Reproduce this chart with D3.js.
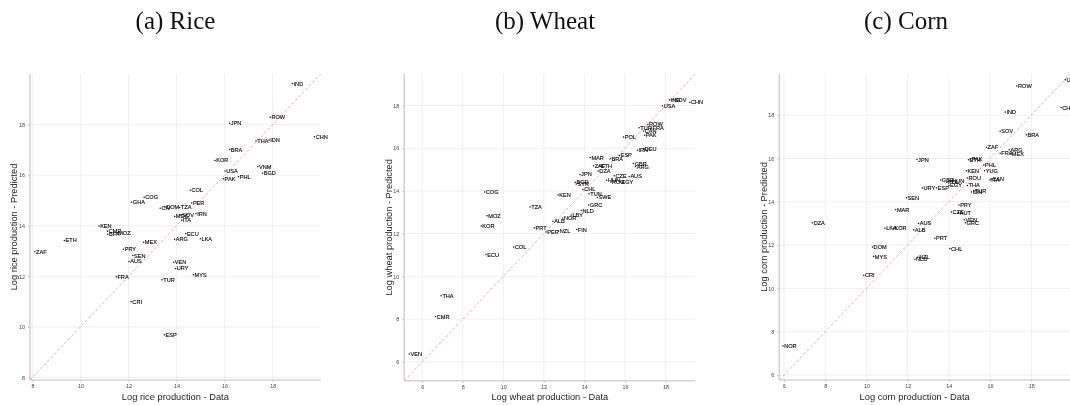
<!DOCTYPE html>
<html><head><meta charset="utf-8">
<script src="https://cdn.jsdelivr.net/npm/d3@7"></script>
<style>
html,body{margin:0;padding:0;background:#fff;overflow:hidden;}
svg{display:block;will-change:transform;}
</style></head>
<body>
<script>
// ---------- DATA ----------
const panelTitles = ["(a) Rice", "(b) Wheat", "(c) Corn"];
const xTitles = ["Log rice production - Data", "Log wheat production - Data", "Log corn production - Data"];
const yTitles = ["Log rice production - Predicted", "Log wheat production - Predicted", "Log corn production - Predicted"];
const tickValues = [8, 10, 12, 14, 16, 18];
const tickValuesB = [6, 8, 10, 12, 14, 16, 18];

const riceLabels = ["IND","ROW","JPN","CHN","THA","IDN","BRA","KOR","VNM","BGD","USA","PAK","PHL","COL","PER","IRN","SOV","MDG","ITA","TZA","DOM","CIV","COG","GHA","MEX","KEN","CMR","MOZ","BFA","ETH","ZAF","PRY","SEN","AUS","FRA","TUR","CRI","ESP","ARG","ECU","LKA","VEN","URY","MYS"];
const riceData = [18.82,17.90,16.21,19.74,17.31,17.85,16.21,15.60,17.38,17.58,16.02,15.95,16.58,14.57,14.63,14.81,14.18,13.92,14.21,14.13,13.52,13.32,12.65,12.13,12.63,10.77,11.13,11.52,11.14,9.33,8.10,11.79,12.18,12.02,11.49,13.40,12.11,13.49,13.92,14.38,14.99,13.88,13.96,14.70];
const ricePred = [19.62,18.29,18.05,17.52,17.35,17.39,17.01,16.58,16.34,16.08,16.16,15.86,15.94,15.40,14.90,14.48,14.42,14.37,14.22,14.72,14.74,14.69,15.13,14.93,13.35,13.99,13.78,13.71,13.66,13.42,12.97,13.07,12.82,12.59,11.98,11.86,11.00,9.69,13.47,13.69,13.49,12.56,12.31,12.06];

const wheatLabels = ["IND","SOV","CHN","USA","ROW","TUR","FRA","CAN","PAK","POL","IRN","DEU","MAR","BRA","ESP","GBR","ARG","ZAF","ETH","DZA","JPN","CZE","AUS","EGY","HUN","ROU","BGD","SYR","CHL","KEN","TUN","SWE","GRC","NLD","LBY","NOR","ALB","PER","NZL","FIN","COG","TZA","MOZ","KOR","PRT","COL","ECU","THA","CMR","VEN"];
const wheatData = [18.20,18.39,19.20,17.85,17.13,16.70,17.30,16.92,16.97,15.93,16.61,16.92,14.29,15.28,15.73,16.42,16.52,14.45,14.75,14.68,13.78,15.47,16.21,15.77,15.10,15.30,13.55,13.60,13.93,12.70,14.23,14.64,14.21,13.85,13.35,12.93,12.45,12.11,12.73,13.62,9.08,11.32,9.20,8.91,11.53,10.51,9.15,6.94,6.66,5.37];
const wheatPred = [18.27,18.27,18.14,17.99,17.11,16.96,16.93,16.80,16.60,16.52,15.90,15.96,15.56,15.51,15.66,15.28,15.14,15.18,15.16,14.93,14.77,14.71,14.68,14.43,14.50,14.42,14.40,14.32,14.07,13.81,13.87,13.69,13.34,13.08,12.87,12.73,12.58,12.08,12.12,12.19,13.95,13.25,12.84,12.36,12.28,11.38,11.02,9.09,8.12,6.37];

const cornLabels = ["USA","CHN","ROW","IND","SOV","BRA","ZAF","ARG","FRA","MEX","JPN","ETH","PAK","PHL","KEN","YUG","ROU","CAN","ITA","GBR","HUN","POL","ESP","EGY","THA","TUR","IDN","URY","SEN","PRY","CZE","AUT","VEN","GRC","AUS","ALB","PRT","CHL","NZL","NLD","DZA","MAR","LKA","KOR","DOM","MYS","CRI","NOR"];
const cornData = [19.65,19.45,17.30,16.74,16.49,17.76,15.82,16.93,16.49,17.00,12.45,14.95,15.05,15.70,14.85,15.73,14.90,16.05,16.00,13.60,14.10,13.90,13.40,14.00,14.90,15.20,15.10,12.71,11.94,14.49,14.12,14.47,14.75,14.80,12.53,12.29,13.32,14.05,12.50,12.35,7.38,11.42,10.90,11.30,10.29,10.35,9.87,5.95];
const cornPred = [19.63,18.35,19.35,18.15,17.26,17.09,16.52,16.40,16.24,16.21,15.95,15.94,15.97,15.70,15.43,15.43,15.10,15.05,15.00,15.00,14.95,14.90,14.65,14.75,14.75,14.50,14.45,14.64,14.18,13.85,13.53,13.50,13.17,13.03,13.00,12.71,12.32,11.84,11.44,11.35,13.03,13.63,12.78,12.78,11.91,11.47,10.61,7.34];

// ---------- LAYOUT ----------
const W = 1070, H = 405;
const panels = [
  {labels: riceLabels, xs: riceData, ys: ricePred, ticks: tickValues, domain: [7.9, 20.0],
   left: 30, right: 320.7, top: 74, bottom: 380, titleX: 175.5},
  {labels: wheatLabels, xs: wheatData, ys: wheatPred, ticks: tickValuesB, domain: [5.12, 19.47],
   left: 404.3, right: 695.3, top: 74, bottom: 380.7, titleX: 545},
  {labels: cornLabels, xs: cornData, ys: cornPred, ticks: tickValuesB, domain: [5.77, 19.9],
   left: 779.3, right: 1070.4, top: 74, bottom: 380, titleX: 906}
];

const svg = d3.select("body").append("svg").attr("width", W).attr("height", H);
const sans = "Liberation Sans, Arial, Helvetica, sans-serif";

panels.forEach((p, i) => {
  const x = d3.scaleLinear().domain(p.domain).range([p.left, p.right]);
  const y = d3.scaleLinear().domain(p.domain).range([p.bottom, p.top]);
  const g = svg.append("g");

  // grid
  g.append("g").selectAll("line").data(p.ticks).join("line")
    .attr("x1", d => x(d)).attr("x2", d => x(d)).attr("y1", p.top).attr("y2", p.bottom)
    .attr("stroke", "#ebebeb").attr("stroke-width", 0.8);
  g.append("g").selectAll("line").data(p.ticks).join("line")
    .attr("y1", d => y(d)).attr("y2", d => y(d)).attr("x1", p.left).attr("x2", p.right)
    .attr("stroke", "#ebebeb").attr("stroke-width", 0.8);

  // axes
  const xa = g.append("g").attr("transform", `translate(0,${p.bottom})`)
    .call(d3.axisBottom(x).tickValues(p.ticks).tickSize(2).tickPadding(2.5));
  const ya = g.append("g").attr("transform", `translate(${p.left},0)`)
    .call(d3.axisLeft(y).tickValues(p.ticks).tickSize(2).tickPadding(3));
  [xa, ya].forEach(a => {
    a.select(".domain").remove();
    a.selectAll(".tick line").attr("stroke", "#bbb");
    a.selectAll(".tick text").attr("fill", "#444").style("font-family", sans).style("font-size", "5.4px");
  });
  g.append("line").attr("x1", p.left).attr("x2", p.left).attr("y1", p.top).attr("y2", p.bottom)
    .attr("stroke", "#d4d4d4").attr("stroke-width", 1.6);
  g.append("line").attr("x1", p.left).attr("x2", p.right).attr("y1", p.bottom).attr("y2", p.bottom)
    .attr("stroke", "#d4d4d4").attr("stroke-width", 1.6);

  // 45 degree line
  g.append("line")
    .attr("x1", x(p.domain[0])).attr("y1", y(p.domain[0]))
    .attr("x2", x(p.domain[1])).attr("y2", y(p.domain[1]))
    .attr("stroke", "#eba3ad").attr("stroke-width", 0.9).attr("stroke-dasharray", "3,2");

  // points
  const pts = p.labels.map((l, k) => ({l, vx: p.xs[k], vy: p.ys[k]}));
  const pg = g.append("g");
  pg.selectAll("circle").data(pts).join("circle")
    .attr("cx", d => x(d.vx)).attr("cy", d => y(d.vy)).attr("r", 0.75).attr("fill", "#111");
  pg.selectAll("text").data(pts).join("text")
    .attr("x", d => x(d.vx) + 1.2).attr("y", d => y(d.vy)).attr("dy", "0.35em")
    .style("font-family", sans).style("font-size", "5.6px")
    .attr("fill", "#000").attr("stroke", "#000").attr("stroke-width", 0.12).text(d => d.l);

  // axis titles
  svg.append("text").attr("x", (p.left + Math.min(p.right, W)) / 2 + (i === 2 ? -10 : 0)).attr("y", 400)
    .attr("text-anchor", "middle").style("font-family", sans)
    .style("font-size", "9.3px").attr("fill", "#222").text(xTitles[i]);
  svg.append("text").attr("transform", `translate(${p.left - 16},${(p.top + p.bottom) / 2}) rotate(-90)`)
    .attr("text-anchor", "middle").attr("dy", "0.35em").style("font-family", sans)
    .style("font-size", "9.3px").attr("fill", "#222").text(yTitles[i]);

  // panel title
  svg.append("text").attr("x", p.titleX).attr("y", 29).attr("text-anchor", "middle")
    .style("font-family", "Liberation Serif, serif").style("font-size", "25px").attr("fill", "#111")
    .text(panelTitles[i]);
});
</script>
</body></html>
